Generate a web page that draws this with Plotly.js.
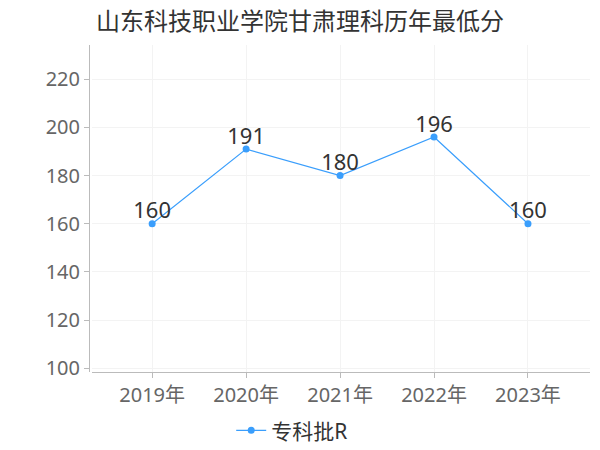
<!DOCTYPE html>
<html><head><meta charset="utf-8">
<script src="https://cdn.plot.ly/plotly-3.0.1.min.js"></script>
<style>html,body{margin:0;padding:0;background:#fff}</style>
</head><body>
<div id="chart" style="width:600px;height:450px"></div>
<script>
const years = ["2019年","2020年","2021年","2022年","2023年"];
const scores = [160,191,180,196,160];
const seriesName = "专科批R";
const chartTitle = "山东科技职业学院甘肃理科历年最低分";
const yTicks = [100,120,140,160,180,200,220];

const font = "Noto Sans, Noto Sans CJK SC, sans-serif";
const lineTrace = {
  x: years, y: scores, name: seriesName, type: "scatter", mode: "lines+markers",
  line: {color: "#3a9efc", width: 1.2},
  marker: {color: "#3a9efc", size: 7},
  cliponaxis: false
};
const labelTrace = {
  x: years, y: scores, type: "scatter", mode: "text", showlegend: false,
  text: scores.map(String), textposition: "top center",
  textfont: {size: 22, color: "#333", family: font},
  cliponaxis: false
};
const layout = {
  width: 600, height: 450,
  margin: {l: 89, r: 10, t: 45, b: 78},
  paper_bgcolor: "#fff", plot_bgcolor: "#fff",
  title: {text: chartTitle, x: 0.5, xanchor: "center", y: 0.952, yanchor: "middle",
          font: {size: 24, color: "#333", family: font}},
  xaxis: {
    domain: [0.006, 1], range: [-0.64, 4.66],
    showgrid: true, gridcolor: "#f3f3f3", gridwidth: 1,
    showline: true, linecolor: "#bbb", linewidth: 1,
    ticks: "outside", ticklen: 5, tickcolor: "#bbb",
    tickfont: {size: 20, color: "#666", family: font},
    zeroline: false
  },
  yaxis: {
    anchor: "free", position: 0,
    range: [98.46, 234.2], tickvals: yTicks,
    showgrid: true, gridcolor: "#f3f3f3", gridwidth: 1,
    showline: true, linecolor: "#bbb", linewidth: 1,
    ticks: "outside", ticklen: 5, tickcolor: "#bbb",
    tickfont: {size: 20, color: "#666", family: font},
    zeroline: false
  },
  showlegend: true,
  legend: {orientation: "h", x: 0.487, xanchor: "center", xref: "container",
           y: 0.043, yanchor: "middle", yref: "container",
           font: {size: 21, color: "#333", family: font}, itemwidth: 30}
};
Plotly.newPlot("chart", [lineTrace, labelTrace], layout, {displayModeBar: false, staticPlot: true});
</script>
</body></html>
